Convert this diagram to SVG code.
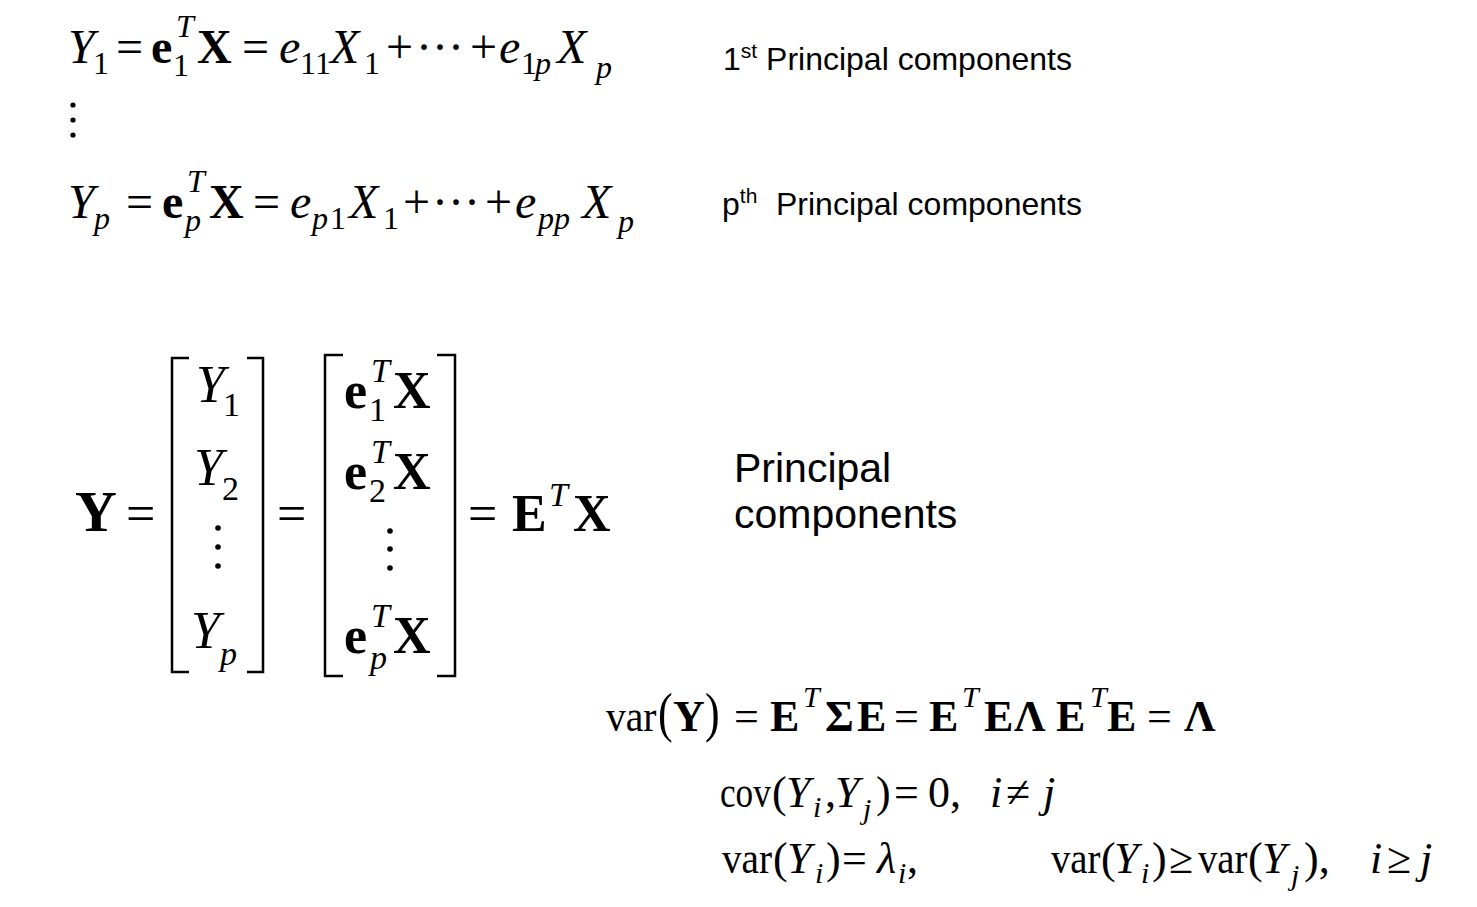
<svg xmlns="http://www.w3.org/2000/svg" width="1477" height="907" viewBox="0 0 1477 907">
<style>
text{font-family:"Liberation Serif","Times New Roman",serif;fill:#000}
.m{font-size:48px}
.s{font-size:32px}
.i{font-style:italic}
.b{font-weight:bold}
.mm{font-size:52px}
.ms{font-size:34px}
.big{font-size:58px}
.v{font-size:44px}
.vs{font-size:30px}
.lab{font-family:"Liberation Sans",Arial,sans-serif;font-size:32px}
.lab2{font-family:"Liberation Sans",Arial,sans-serif;font-size:41px}
.br{fill:none;stroke:#000;stroke-width:2.5}
</style>
<rect width="1477" height="907" fill="#fff"/>

<g id="eq1">
<text class="m i" x="68" y="63">Y</text>
<text class="s" x="93" y="74">1</text>
<text class="m" x="116" y="63">=</text>
<text class="m b" x="151" y="63">e</text>
<text class="s i" x="176" y="37">T</text>
<text class="s" x="173" y="76">1</text>
<text class="m b" x="197" y="63">X</text>
<text class="m" x="242" y="63">=</text>
<text class="m i" x="279" y="63">e</text>
<text class="s" x="300" y="74">1</text>
<text class="s" x="315" y="74">1</text>
<text class="m i" x="330" y="63">X</text>
<text class="s" x="364" y="74">1</text>
<text class="m" x="386" y="63">+</text>
<text class="m" x="416" y="63">···</text>
<text class="m" x="470" y="63">+</text>
<text class="m i" x="499" y="63">e</text>
<text class="s" x="521" y="74">1</text>
<text class="s i" x="535" y="74">p</text>
<text class="m i" x="557" y="63">X</text>
<text class="s i" x="596" y="78">p</text>
</g>

<g id="vdots1">
<circle cx="73" cy="105" r="2.6"/>
<circle cx="73" cy="120" r="2.6"/>
<circle cx="73" cy="135" r="2.6"/>
</g>

<g id="eqp">
<text class="m i" x="68" y="218">Y</text>
<text class="s i" x="94" y="229">p</text>
<text class="m" x="126" y="218">=</text>
<text class="m b" x="162" y="218">e</text>
<text class="s i" x="187" y="192">T</text>
<text class="s i" x="185" y="231">p</text>
<text class="m b" x="209" y="218">X</text>
<text class="m" x="253" y="218">=</text>
<text class="m i" x="290" y="218">e</text>
<text class="s i" x="312" y="229">p</text>
<text class="s" x="330" y="229">1</text>
<text class="m i" x="349" y="218">X</text>
<text class="s" x="383" y="229">1</text>
<text class="m" x="403" y="218">+</text>
<text class="m" x="432" y="218">···</text>
<text class="m" x="485" y="218">+</text>
<text class="m i" x="515" y="218">e</text>
<text class="s i" x="538" y="229">pp</text>
<text class="m i" x="582" y="218">X</text>
<text class="s i" x="618" y="232">p</text>
</g>

<g id="label1">
<text class="lab" x="723" y="70">1<tspan font-size="21px" dy="-12">st</tspan><tspan dy="12"> Principal components</tspan></text>
</g>
<g id="labelp">
<text class="lab" x="722" y="215">p<tspan font-size="21px" dy="-12">th</tspan><tspan dy="12" x="776">Principal components</tspan></text>
</g>

<g id="matrix">
<text class="big b" x="75" y="531">Y</text>
<text class="mm" x="126" y="531">=</text>
<path class="br" d="M189,358 H172 V672 H189"/>
<path class="br" d="M247,358 H263 V672 H247"/>
<text class="mm i" x="196" y="402">Y</text>
<text class="ms" x="223" y="416">1</text>
<text class="mm i" x="194" y="485">Y</text>
<text class="ms" x="222" y="500">2</text>
<circle cx="218" cy="528" r="2.8"/>
<circle cx="218" cy="547" r="2.8"/>
<circle cx="218" cy="566" r="2.8"/>
<text class="mm i" x="191" y="648">Y</text>
<text class="ms i" x="220" y="665">p</text>
<text class="mm" x="277" y="531">=</text>
<path class="br" d="M343,355 H325 V676 H343"/>
<path class="br" d="M437,355 H455 V676 H437"/>
<text class="mm b" x="344" y="408">e</text>
<text class="ms i" x="371" y="382">T</text>
<text class="ms" x="369" y="421">1</text>
<text class="mm b" x="393" y="408">X</text>
<text class="mm b" x="344" y="489">e</text>
<text class="ms i" x="371" y="463">T</text>
<text class="ms" x="369" y="502">2</text>
<text class="mm b" x="393" y="489">X</text>
<circle cx="390" cy="531" r="2.8"/>
<circle cx="390" cy="549" r="2.8"/>
<circle cx="390" cy="568" r="2.8"/>
<text class="mm b" x="344" y="653">e</text>
<text class="ms i" x="371" y="627">T</text>
<text class="ms i" x="370" y="669">p</text>
<text class="mm b" x="393" y="653">X</text>
<text class="mm" x="468" y="531">=</text>
<text class="mm b" x="512" y="531">E</text>
<text class="ms i" x="549" y="506">T</text>
<text class="mm b" x="573" y="531">X</text>
</g>

<g id="label3">
<text class="lab2" x="734" y="482">Principal</text>
<text class="lab2" x="734" y="528">components</text>
</g>

<g id="varY">
<text class="v" x="0" y="0" transform="translate(606,731) scale(0.9,1)">var</text>
<text class="v" x="658" y="731" transform="translate(658,731) scale(1,1.25) translate(-658,-731)">(</text>
<text class="v b" x="673" y="731">Y</text>
<text class="v" x="705" y="731" transform="translate(705,731) scale(1,1.25) translate(-705,-731)">)</text>
<text class="v" x="734" y="731">=</text>
<text class="v b" x="770" y="731">E</text>
<text class="vs i" x="803" y="707">T</text>
<text class="v b" x="825" y="731">Σ</text>
<text class="v b" x="857" y="731">E</text>
<text class="v" x="894" y="731">=</text>
<text class="v b" x="929" y="731">E</text>
<text class="vs i" x="962" y="707">T</text>
<text class="v b" x="984" y="731">E</text>
<text class="v b" x="1014" y="731">Λ</text>
<text class="v b" x="1056" y="731">E</text>
<text class="vs i" x="1090" y="707">T</text>
<text class="v b" x="1107" y="731">E</text>
<text class="v" x="1147" y="731">=</text>
<text class="v b" x="1184" y="731">Λ</text>
</g>

<g id="cov">
<text class="v" x="0" y="0" transform="translate(720,807) scale(0.8,1)">cov</text>
<text class="v" x="772" y="807">(</text>
<text class="v i" x="786" y="807">Y</text>
<text class="vs i" x="813" y="817">i</text>
<text class="v" x="825" y="807">,</text>
<text class="v i" x="835" y="807">Y</text>
<text class="vs i" x="863" y="819">j</text>
<text class="v" x="876" y="807">)</text>
<text class="v" x="894" y="807">=</text>
<text class="v" x="928" y="807">0,</text>
<text class="v i" x="990" y="807">i</text>
<text class="v" x="1006" y="807">≠</text>
<text class="v i" x="1043" y="807">j</text>
</g>

<g id="var">
<text class="v" x="0" y="0" transform="translate(722,873) scale(0.89,1)">var</text>
<text class="v" x="773" y="873">(</text>
<text class="v i" x="787" y="873">Y</text>
<text class="vs i" x="815" y="883">i</text>
<text class="v" x="826" y="873">)</text>
<text class="v" x="842" y="873">=</text>
<text class="v i" x="877" y="873">λ</text>
<text class="vs i" x="898" y="883">i</text>
<text class="v" x="907" y="873">,</text>
<text class="v" x="0" y="0" transform="translate(1051,873) scale(0.88,1)">var</text>
<text class="v" x="1101" y="873">(</text>
<text class="v i" x="1114" y="873">Y</text>
<text class="vs i" x="1141" y="883">i</text>
<text class="v" x="1152" y="873">)</text>
<text class="v" x="1169" y="873">≥</text>
<text class="v" x="0" y="0" transform="translate(1198,873) scale(0.88,1)">var</text>
<text class="v" x="1248" y="873">(</text>
<text class="v i" x="1262" y="873">Y</text>
<text class="vs i" x="1291" y="885">j</text>
<text class="v" x="1304" y="873">),</text>
<text class="v i" x="1370" y="873">i</text>
<text class="v" x="1387" y="873">≥</text>
<text class="v i" x="1420" y="873">j</text>
</g>
</svg>
